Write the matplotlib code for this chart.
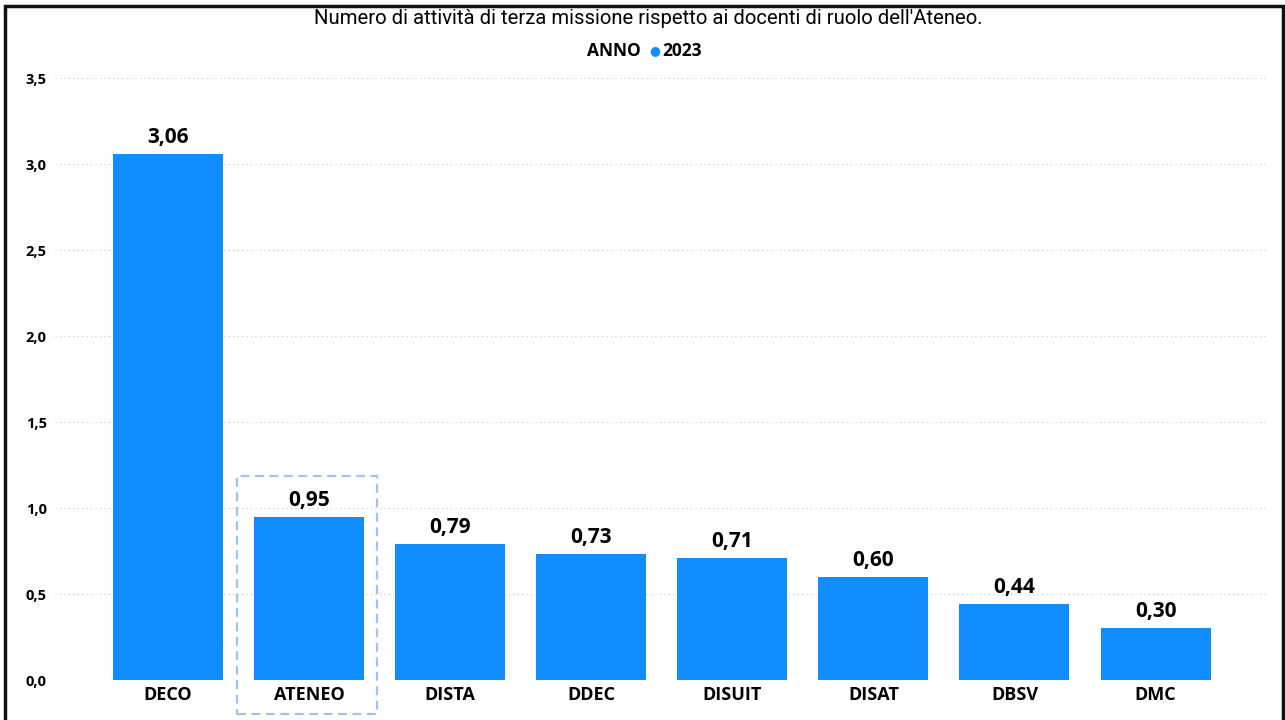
import matplotlib
matplotlib.use("Agg")
import matplotlib.pyplot as plt
from matplotlib.patches import Rectangle

categories = ["DECO", "ATENEO", "DISTA", "DDEC", "DISUIT", "DISAT", "DBSV", "DMC"]
values = [3.06, 0.95, 0.79, 0.73, 0.71, 0.60, 0.44, 0.30]
yticks = [0.0, 0.5, 1.0, 1.5, 2.0, 2.5, 3.0, 3.5]
title = "Numero di attività di terza missione rispetto ai docenti di ruolo dell'Ateneo."
legend_title = "ANNO"
legend_label = "2023"

bar_color = "#118DFF"
plt.rcParams['font.family'] = ['Open Sans', 'DejaVu Sans']

fig = plt.figure(figsize=(12.85, 7.2), dpi=100)
ax = fig.add_axes([55/1285, 1-680/720, (1267-55)/1285, (680-78)/720])

x = list(range(len(categories)))
ax.bar(x, values, width=0.78, color=bar_color, zorder=2)
ax.set_xlim(-0.80, 7.79)
ax.set_ylim(0, 3.5)
ax.set_yticks(yticks)
ax.set_yticklabels([f"{t:.1f}".replace(".", ",") for t in yticks], fontsize=10.5, fontweight="bold")
ax.set_xticks(x)
ax.set_xticklabels(categories, fontsize=13, fontweight="bold")
ax.tick_params(axis="both", length=0)
ax.tick_params(axis="x", pad=4)
ax.tick_params(axis="y", pad=21)
for lbl in ax.get_yticklabels():
    lbl.set_horizontalalignment("left")
for s in ax.spines.values():
    s.set_visible(False)
ax.grid(axis="y", linestyle=(0, (1, 3)), color="#c8c8c8", linewidth=0.8, zorder=0)

for xi, v in zip(x, values):
    ax.text(xi, v + 0.035, f"{v:.2f}".replace(".", ","), ha="center", va="bottom",
            fontsize=15, fontweight="bold")

# dashed selection box around ATENEO
fig.patches.append(Rectangle((237/1285, 1-714/720), (377-237)/1285, (714-476)/720,
                             transform=fig.transFigure, fill=False, edgecolor="#9fc5ec",
                             linestyle=(0, (4, 2.5)), linewidth=1.6))

# border
fig.patches.append(Rectangle((5/1285, -0.01), (1283-5)/1285, 1-6/720 + 0.01,
                             transform=fig.transFigure, fill=False, edgecolor="#111111",
                             linewidth=2.5))

fig.text(648/1285, 1-19/720, title, ha="center", va="center", fontsize=14.6,
         family=["Roboto", "DejaVu Sans"])
fig.text(641/1285, 1-51/720, legend_title, ha="right", va="center", fontsize=12.5, fontweight="bold")
fig.text(655/1285, 1-51/720, "\u25CF", ha="center", va="center", fontsize=9, color=bar_color,
         family=["DejaVu Sans"])
fig.text(662/1285, 1-51/720, legend_label, ha="left", va="center", fontsize=12.5, fontweight="bold")

fig.savefig("out.png", dpi=100)
